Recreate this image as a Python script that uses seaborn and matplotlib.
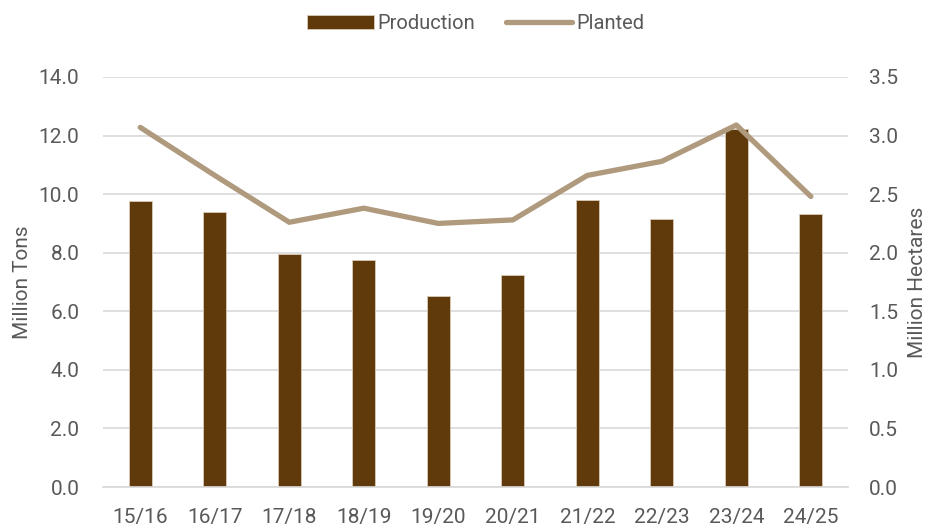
import numpy as np
import pandas as pd
import matplotlib
matplotlib.use('Agg')
import matplotlib.pyplot as plt
import seaborn as sns

# data
seasons = ['15/16', '16/17', '17/18', '18/19', '19/20', '20/21', '21/22', '22/23', '23/24', '24/25']
production = [9.76, 9.39, 7.95, 7.75, 6.52, 7.24, 9.80, 9.15, 12.22, 9.32]
planted = [3.07, 2.66, 2.26, 2.38, 2.25, 2.28, 2.66, 2.78, 3.09, 2.48]

bar_color = '#603A0A'
line_color = '#B09A7E'
text_color = '#595959'

sns.set_theme(style='white')
plt.rcParams['font.family'] = ['Roboto', 'DejaVu Sans']

df = pd.DataFrame({'season': seasons, 'production': production, 'planted': planted})

fig = plt.figure(figsize=(9.32, 5.27), dpi=100)
ax = fig.add_axes([0.1105, 0.0759, 0.7995, 0.778])

sns.barplot(data=df, x='season', y='production', color=bar_color, width=0.31,
            edgecolor='#D9CBB8', linewidth=0.6, saturation=1, ax=ax, label='Production')
ax.set_ylim(0, 14)
ax.set_yticks(np.arange(0, 14.1, 2))
ax.set_yticklabels([f'{v:.1f}' for v in np.arange(0, 14.1, 2)])
ax.grid(axis='y', color='#D9D9D9', linewidth=1.2)
ax.set_axisbelow(True)
ax.set_xlabel('')
ax.set_ylabel('Million Tons', fontsize=15, color=text_color, labelpad=5)

ax2 = ax.twinx()
sns.lineplot(data=df, x='season', y='planted', color=line_color, linewidth=3.8,
             ax=ax2, label='Planted', solid_capstyle='round', solid_joinstyle='round', sort=False)
ax2.set_ylim(0, 3.5)
ax2.set_yticks(np.arange(0, 3.51, 0.5))
ax2.set_yticklabels([f'{v:.1f}' for v in np.arange(0, 3.51, 0.5)])
ax2.set_ylabel('Million Hectares', fontsize=15, color=text_color, labelpad=7)
ax2.set_xlabel('')
ax2.grid(False)
ax.set_xlim(-0.5, len(seasons) - 0.5)

for a in (ax, ax2):
    for s in a.spines.values():
        s.set_visible(False)
    a.tick_params(axis='both', length=0, labelsize=15, colors=text_color)

ax.tick_params(axis='y', pad=17)
ax2.tick_params(axis='y', pad=15)
ax.tick_params(axis='x', pad=15)
ax.spines['bottom'].set_visible(True)
ax.spines['bottom'].set_color('#D9D9D9')

h1, l1 = ax.get_legend_handles_labels()
h2, l2 = ax2.get_legend_handles_labels()
if ax2.get_legend():
    ax2.get_legend().remove()
leg = ax.legend(h1 + h2, l1 + l2, loc='upper center', bbox_to_anchor=(0.5, 1.197),
                ncol=2, frameon=False, fontsize=14.5, handlelength=3.3,
                columnspacing=1.5, handletextpad=0.2)
for t in leg.get_texts():
    t.set_color(text_color)

fig.savefig('out.png', dpi=100)
